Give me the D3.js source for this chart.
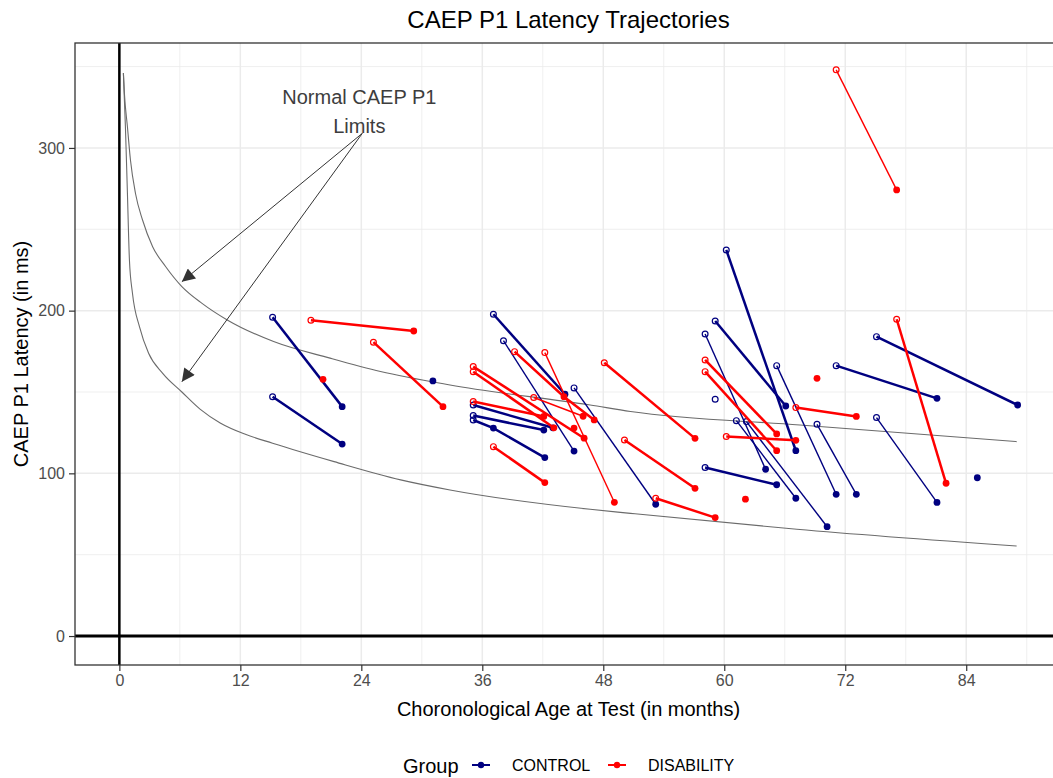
<!DOCTYPE html>
<meta charset="utf-8">
<style>
  body { margin: 0; background: #fff; }
  text { font-family: "Liberation Sans", Arial, sans-serif; }
  .grid line { stroke: #ebebeb; }
  .tick text { fill: #4d4d4d; font-size: 16px; }
</style>
<script src="https://d3js.org/d3.v7.min.js"></script>
<div id="chart"></div>
<script>

// axis ticks
var xTicks = [0, 12, 24, 36, 48, 60, 72, 84];
var yTicks = [0, 100, 200, 300];
var groups = ["CONTROL", "DISABILITY"];

// trajectories: sz = line size class, pts = [age in months, latency in ms, visit]
var control = [
  {sz: 2, pts: [[15.2, 195.9, 1], [22.1, 141, 2]]},
  {sz: 2, pts: [[15.2, 147.1, 1], [22.1, 118, 2]]},
  {sz: 2, pts: [[37.1, 197.8, 1], [44.2, 148.6, 2]]},
  {sz: 1, pts: [[38.1, 181.5, 1], [45.1, 113.7, 2]]},
  {sz: 1, pts: [[45.1, 152.5, 1], [53.2, 81, 2]]},
  {sz: 2, pts: [[35.1, 142, 1], [43, 128, 2]]},
  {sz: 2, pts: [[35.1, 135.5, 1], [42.1, 126.6, 2]]},
  {sz: 2, pts: [[35.1, 132.8, 1], [37.1, 127.8, 2], [42.2, 109.7, 3]]},
  {sz: 2, pts: [[60.2, 237.3, 1], [67.1, 113.9, 2]]},
  {sz: 2, pts: [[59.1, 193.6, 1], [66.1, 141.4, 2]]},
  {sz: 1, pts: [[58.1, 185.6, 1], [64.1, 102.5, 2]]},
  {sz: 1, pts: [[61.2, 132.4, 1], [67.1, 84.7, 2]]},
  {sz: 1, pts: [[62.2, 131.8, 1], [70.2, 67.2, 2]]},
  {sz: 2, pts: [[58.1, 103.6, 1], [65.2, 93, 2]]},
  {sz: 1, pts: [[65.2, 166.2, 1], [71.1, 87.1, 2]]},
  {sz: 2, pts: [[71.1, 166.2, 1], [81.1, 146.1, 2]]},
  {sz: 1, pts: [[69.2, 130.1, 1], [73.1, 87.1, 2]]},
  {sz: 2, pts: [[75.1, 184, 1], [89.1, 142, 2]]},
  {sz: 1, pts: [[75.1, 134.3, 1], [81.1, 82.1, 2]]},
  {sz: 1, pts: [[31.1, 156.8, 2]]},
  {sz: 1, pts: [[59.1, 145.5, 1]]},
  {sz: 1, pts: [[85.1, 97.3, 2]]}
];

var disability = [
  {sz: 2, pts: [[19.0, 194.1, 1], [29.2, 187.5, 2]]},
  {sz: 2, pts: [[25.2, 180.6, 1], [32.1, 141, 2]]},
  {sz: 1, pts: [[20.2, 157.8, 2]]},
  {sz: 2, pts: [[35.1, 165.6, 1], [46.1, 121.6, 2]]},
  {sz: 2, pts: [[35.1, 162.5, 1], [43.1, 128, 2]]},
  {sz: 2, pts: [[35.1, 144.1, 1], [42.1, 135, 2]]},
  {sz: 1, pts: [[41.1, 146.6, 1], [46.0, 135.1, 2]]},
  {sz: 2, pts: [[39.2, 174.8, 1], [44.1, 147.1, 2], [47.1, 132.8, 3]]},
  {sz: 1, pts: [[42.2, 174.2, 1], [49.1, 82.2, 2]]},
  {sz: 2, pts: [[37.1, 116.4, 1], [42.2, 94.3, 2]]},
  {sz: 1, pts: [[45.1, 127.8, 2]]},
  {sz: 2, pts: [[48.1, 168, 1], [57.1, 121.5, 2]]},
  {sz: 2, pts: [[50.1, 120.5, 1], [57.1, 90.8, 2]]},
  {sz: 2, pts: [[53.2, 84.7, 1], [59.1, 72.8, 2]]},
  {sz: 2, pts: [[58.1, 169.7, 1], [65.2, 124.2, 2]]},
  {sz: 2, pts: [[58.1, 162.5, 1], [65.2, 113.9, 2]]},
  {sz: 2, pts: [[60.2, 122.6, 1], [67.1, 120.3, 2]]},
  {sz: 2, pts: [[67.1, 140.4, 1], [73.1, 135, 2]]},
  {sz: 1, pts: [[62.1, 84.1, 2]]},
  {sz: 1, pts: [[69.2, 158.4, 2]]},
  {sz: 1, pts: [[71.1, 348, 1], [77.1, 274.2, 2]]},
  {sz: 2, pts: [[77.1, 194.7, 1], [82.0, 93.9, 2]]}
];

// normal limit curves
var upperAge = [0.4, 0.5, 0.8, 1.1, 1.6, 2.3, 3.3, 4.6, 6.2, 8.2, 10.7, 15.3, 20.9, 25.9, 32.8, 46.7, 50.7, 67.5, 89];
var upperLat = [346, 333.6, 313, 292.6, 272, 255.7, 239.3, 227, 214.8, 204.5, 194.3, 181, 170.8, 162.6, 154.3, 142, 138, 129.7, 119.5];
var lowerAge = [0.4, 0.6, 0.8, 1.0, 1.3, 2.0, 2.9, 4.3, 6.2, 8.0, 10, 12.5, 15.2, 21.3, 27.9, 32.8, 46.7, 50.7, 67.2, 89];
var lowerLat = [346, 313, 272, 231, 210.7, 190, 173.8, 161.5, 150, 139.5, 131, 124, 118.5, 107.2, 96, 89.8, 77.9, 75.4, 65.6, 55.3];

// annotation
var noteText = ["Normal CAEP P1", "Limits"];
var noteFrom = [24.1, 309];
var noteTips = [[6.2, 217.8], [6.2, 156.3]];

var width = 1053, height = 778;
var panel = {left: 75, right: 1062, top: 43, bottom: 665};

var svg = d3.select("#chart").append("svg")
    .attr("width", width)
    .attr("height", height);

var x = d3.scaleLinear().domain([-4.4, 93.5]).range([panel.left, panel.right]);
var y = d3.scaleLinear().domain([-17.8, 364.5]).range([panel.bottom, panel.top]);

var colour = d3.scaleOrdinal().domain(groups).range(["#000080", "#ff0000"]);
var lineSize = d3.scaleOrdinal().domain([1, 2]).range([1.4, 2.5]);

svg.append("defs").append("clipPath").attr("id", "clip")
  .append("rect")
    .attr("x", panel.left).attr("y", panel.top)
    .attr("width", panel.right - panel.left).attr("height", panel.bottom - panel.top);

// grid lines
var grid = svg.append("g").attr("class", "grid").attr("clip-path", "url(#clip)");
var xMinor = xTicks.map(function(d) { return d + 6; });
var yMinor = yTicks.map(function(d) { return d + 50; });
grid.selectAll(".xmin").data(xMinor).enter().append("line")
    .attr("x1", d => x(d)).attr("x2", d => x(d))
    .attr("y1", panel.top).attr("y2", panel.bottom)
    .attr("stroke-width", 0.8);
grid.selectAll(".ymin").data(yMinor).enter().append("line")
    .attr("y1", d => y(d)).attr("y2", d => y(d))
    .attr("x1", panel.left).attr("x2", panel.right)
    .attr("stroke-width", 0.8);
grid.selectAll(".xmaj").data(xTicks).enter().append("line")
    .attr("x1", d => x(d)).attr("x2", d => x(d))
    .attr("y1", panel.top).attr("y2", panel.bottom)
    .attr("stroke-width", 1.5);
grid.selectAll(".ymaj").data(yTicks).enter().append("line")
    .attr("y1", d => y(d)).attr("y2", d => y(d))
    .attr("x1", panel.left).attr("x2", panel.right)
    .attr("stroke-width", 1.5);

var plot = svg.append("g").attr("clip-path", "url(#clip)");

// reference lines at zero
plot.append("line")
    .attr("x1", x(0)).attr("x2", x(0))
    .attr("y1", panel.top).attr("y2", panel.bottom)
    .attr("stroke", "#000").attr("stroke-width", 2.5);
plot.append("line")
    .attr("x1", panel.left).attr("x2", panel.right)
    .attr("y1", y(0)).attr("y2", y(0))
    .attr("stroke", "#000").attr("stroke-width", 3);

// normal limit curves
var curve = d3.line().x(d => x(d[0])).y(d => y(d[1])).curve(d3.curveMonotoneX);
[d3.zip(upperAge, upperLat), d3.zip(lowerAge, lowerLat)].forEach(function(c) {
  plot.append("path")
      .attr("d", curve(c))
      .attr("fill", "none")
      .attr("stroke", "#6b6b6b")
      .attr("stroke-width", 1.1);
});

// arrows
svg.append("defs").append("marker")
    .attr("id", "arrow")
    .attr("viewBox", "0 0 10 10")
    .attr("refX", 10).attr("refY", 5)
    .attr("markerWidth", 15).attr("markerHeight", 13)
    .attr("markerUnits", "userSpaceOnUse")
    .attr("orient", "auto")
  .append("path")
    .attr("d", "M0,0L10,5L0,10Z")
    .attr("fill", "#333");
noteTips.forEach(function(t) {
  plot.append("line")
      .attr("x1", x(noteFrom[0])).attr("y1", y(noteFrom[1]))
      .attr("x2", x(t[0])).attr("y2", y(t[1]))
      .attr("stroke", "#333").attr("stroke-width", 1)
      .attr("marker-end", "url(#arrow)");
});
svg.append("text")
    .attr("y", y(noteFrom[1]) - 29)
    .attr("text-anchor", "middle")
    .attr("font-size", 20)
    .attr("fill", "#3d3d3d")
  .selectAll("tspan").data(noteText).enter().append("tspan")
    .attr("x", x(noteFrom[0]) - 3)
    .attr("dy", (d, i) => i ? 29 : 0)
    .text(d => d);

// trajectories
var traj = d3.line().x(d => x(d[0])).y(d => y(d[1]));
[[groups[0], control], [groups[1], disability]].forEach(function(g) {
  var name = g[0], data = g[1];
  plot.selectAll(null).data(data.filter(d => d.pts.length > 1)).enter().append("path")
      .attr("d", d => traj(d.pts))
      .attr("fill", "none")
      .attr("stroke", colour(name))
      .attr("stroke-width", d => lineSize(d.sz));
  var pts = [];
  data.forEach(function(d) { d.pts.forEach(function(p) { pts.push(p); }); });
  plot.selectAll(null).data(pts).enter().append("circle")
      .attr("cx", d => x(d[0])).attr("cy", d => y(d[1]))
      .attr("r", d => d[2] === 1 ? 2.9 : 3.4)
      .attr("fill", d => d[2] === 1 ? "none" : colour(name))
      .attr("stroke", colour(name))
      .attr("stroke-width", d => d[2] === 1 ? 1.2 : 0);
});

// panel border
svg.append("rect")
    .attr("x", panel.left).attr("y", panel.top)
    .attr("width", panel.right - panel.left).attr("height", panel.bottom - panel.top)
    .attr("fill", "none").attr("stroke", "#333").attr("stroke-width", 1.3);

// axes
var xAxis = svg.append("g")
    .attr("transform", "translate(0," + panel.bottom + ")")
    .call(d3.axisBottom(x).tickValues(xTicks).tickSize(6).tickPadding(4));
var yAxis = svg.append("g")
    .attr("transform", "translate(" + panel.left + ",0)")
    .call(d3.axisLeft(y).tickValues(yTicks).tickSize(6).tickPadding(4));
[xAxis, yAxis].forEach(function(a) {
  a.select(".domain").remove();
  a.selectAll(".tick line").attr("stroke", "#333").attr("stroke-width", 1.2);
  a.selectAll(".tick text").attr("font-size", 16).attr("font-family", null);
});

// titles
svg.append("text")
    .attr("x", (panel.left + panel.right) / 2).attr("y", 28)
    .attr("text-anchor", "middle").attr("font-size", 24)
    .text("CAEP P1 Latency Trajectories");
svg.append("text")
    .attr("x", (panel.left + panel.right) / 2).attr("y", 716)
    .attr("text-anchor", "middle").attr("font-size", 20)
    .text("Choronological Age at Test (in months)");
svg.append("text")
    .attr("transform", "translate(28," + (panel.top + panel.bottom) / 2 + ") rotate(-90)")
    .attr("text-anchor", "middle").attr("font-size", 20)
    .text("CAEP P1 Latency (in ms)");

// legend
var legend = svg.append("g").attr("transform", "translate(0,765)");
legend.append("text").attr("x", 403).attr("y", 8).attr("font-size", 20).text("Group");
var keyX = [472, 608];
groups.forEach(function(gname, i) {
  var k = legend.append("g").attr("transform", "translate(" + keyX[i] + ",0)");
  k.append("line").attr("x1", 0).attr("x2", 18).attr("y1", 0).attr("y2", 0)
      .attr("stroke", colour(gname)).attr("stroke-width", 2);
  k.append("circle").attr("cx", 9).attr("cy", 0).attr("r", 3.2).attr("fill", colour(gname));
  k.append("text").attr("x", 40).attr("y", 6).attr("font-size", 16).text(gname);
});

</script>
